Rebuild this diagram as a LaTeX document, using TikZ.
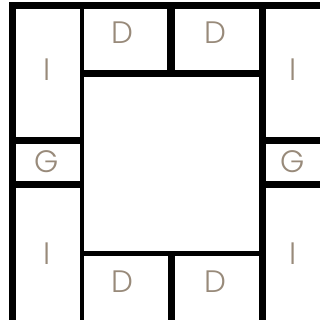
\documentclass[tikz,border=0pt]{standalone}
\usepackage{fontspec}
\setmainfont{Poppins Light}
\usepackage{xcolor}
\definecolor{wallblack}{RGB}{0,0,0}
\definecolor{labeltaupe}{RGB}{152,138,122}

\begin{document}
\begin{tikzpicture}[
    x=1pt, y=-1pt,
    wall/.style={fill=wallblack, draw=none},
    cell/.style={font=\fontsize{31}{31}\selectfont, text=labeltaupe, inner sep=0pt}
]
    \useasboundingbox (0,0) rectangle (320,320);

    % Outer walls
    \fill[wall] (9,2) rectangle (320,9);
    \fill[wall] (9,2) rectangle (16,320);
    \fill[wall] (80,2) rectangle (84,320);
    \fill[wall] (259,2) rectangle (266,320);

    % Inner walls
    \fill[wall] (167,2) rectangle (175,77);
    \fill[wall] (168,251) rectangle (175,320);
    \fill[wall] (80,70) rectangle (266,77);
    \fill[wall] (80,251) rectangle (266,255.5);
    \fill[wall] (9,137) rectangle (84,144);
    \fill[wall] (9,181) rectangle (84,188);
    \fill[wall] (259,137) rectangle (320,144);
    \fill[wall] (259,181) rectangle (320,188);

    % Labels
    \node[cell] (d1) at (122,33) {D};
    \node[cell] (d2) at (215,33) {D};
    \node[cell] (d3) at (122,282) {D};
    \node[cell] (d4) at (215,282) {D};
    \node[cell] (i1) at (47,70) {I};
    \node[cell] (i2) at (293,70) {I};
    \node[cell] (i3) at (47,254) {I};
    \node[cell] (i4) at (293,254) {I};
    \node[cell] (g1) at (47,162) {G};
    \node[cell] (g2) at (293,162) {G};
\end{tikzpicture}
\end{document}
